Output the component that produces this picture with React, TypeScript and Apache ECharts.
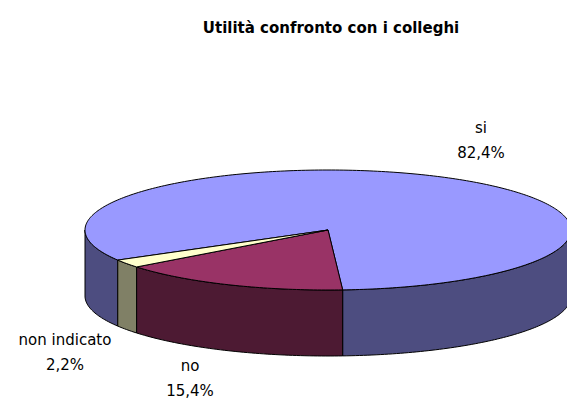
import React, { useEffect, useRef } from "react";
import * as echarts from "echarts";

const TITLE = "Utilità confronto con i colleghi";
const categories = ["si", "no", "non indicato"];
const percentValues = [82.4, 15.4, 2.2];

const TOP_COLORS = ["#9999FF", "#993366", "#FFFFCC"];
const SIDE_COLORS = ["#4D4D80", "#4D1A33", "#808066"];
const LABEL_POS: [number, number][] = [
  [481, 140],
  [190, 378],
  [65, 352],
];

const CX = 328;
const CY = 230;
const RX = 243;
const RY = 60;
const DEPTH = 66;
const START_DEG = 149.9;

function pt(tDeg: number, dy = 0): [number, number] {
  const t = (tDeg * Math.PI) / 180;
  return [CX + RX * Math.cos(t), CY + RY * Math.sin(t) + dy];
}

function arc(t1: number, t2: number, dy = 0): [number, number][] {
  const pts: [number, number][] = [];
  const steps = Math.max(2, Math.ceil(Math.abs(t2 - t1) / 1));
  for (let i = 0; i <= steps; i++) {
    pts.push(pt(t1 + ((t2 - t1) * i) / steps, dy));
  }
  return pts;
}

export default function App() {
  const ref = useRef<HTMLDivElement>(null);
  useEffect(() => {
    document.body.style.margin = "0";
    if (!ref.current) return;
    const chart = echarts.init(ref.current, null, { renderer: "svg" });
    const total = percentValues.reduce((a, b) => a + b, 0);
    let cum = 0;
    const data = percentValues.map((v, i) => {
      const item = { value: [v, cum], name: categories[i] };
      cum += v;
      return item;
    });

    chart.setOption({
      animation: false,
      backgroundColor: "#ffffff",
      title: {
        text: TITLE,
        left: 326,
        top: 15,
        textAlign: "center",
        textStyle: {
          fontFamily: "DejaVu Sans",
          fontWeight: "bold",
          fontSize: 15,
          color: "#000",
        },
      },
      series: [
        {
          type: "custom",
          coordinateSystem: "none",
          data,
          renderItem: (params: any, api: any) => {
            const idx = params.dataIndex;
            const v = api.value(0);
            const c = api.value(1);
            const t1 = START_DEG + (c / total) * 360;
            const t2 = t1 + (v / total) * 360;
            const children: any[] = [];
            for (const k of [-360, 0, 360]) {
              const a = Math.max(t1, k);
              const b = Math.min(t2, k + 180);
              if (b > a) {
                const top = arc(a, b, 0);
                const bottom = arc(a, b, DEPTH).reverse();
                children.push({
                  type: "polygon",
                  shape: { points: top.concat(bottom) },
                  style: { fill: SIDE_COLORS[idx], stroke: "#000", lineWidth: 1 },
                  z2: 1,
                });
              }
            }
            const topPts = [[CX, CY] as [number, number]].concat(arc(t1, t2, 0));
            children.push({
              type: "polygon",
              shape: { points: topPts },
              style: { fill: TOP_COLORS[idx], stroke: "#000", lineWidth: 1 },
              z2: 2,
            });
            const lp = LABEL_POS[idx];
            children.push({
              type: "text",
              x: lp[0],
              y: lp[1],
              style: {
                text: `${categories[idx]}\n${v.toFixed(1).replace(".", ",")}%`,
                fontFamily: "DejaVu Sans",
                fontSize: 15,
                lineHeight: 25,
                fill: "#000",
                align: "center",
                verticalAlign: "middle",
              },
              z2: 3,
            });
            return { type: "group", children };
          },
        },
      ],
    });
    return () => chart.dispose();
  }, []);
  return <div ref={ref} style={{ width: 567, height: 405 }} />;
}
